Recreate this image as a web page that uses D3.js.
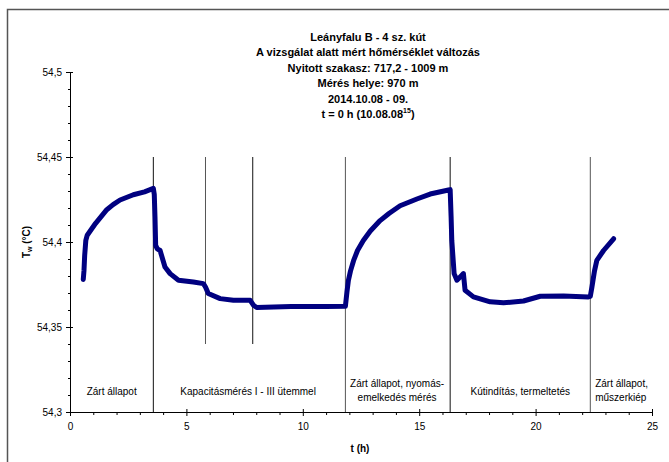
<!DOCTYPE html>
<html>
<head>
<meta charset="utf-8">
<script src="https://cdn.jsdelivr.net/npm/d3@7"></script>
<style>
  body { margin: 0; background: #fff; }
  text { font-family: "Liberation Sans", Arial, sans-serif; }
</style>
</head>
<body>
<svg width="669" height="462"></svg>
<script>
// measured temperature, time in hours since 10.08.08:15
var tHours = [0.57, 0.60, 0.63, 0.68, 0.74, 1.10, 1.58, 1.85, 2.15, 2.72, 3.20, 3.58,
  3.62, 3.65, 3.68, 3.75, 3.87, 4.08, 4.30, 4.66, 5.30, 5.73, 5.82, 5.94, 6.45,
  7.02, 7.74, 7.88, 8.02, 9.50, 11.00, 11.83, 11.90, 11.96, 12.05, 12.18, 12.35, 12.60, 12.90,
  13.32, 13.70, 14.18, 14.90, 15.47, 16.26, 16.33, 16.37, 16.40, 16.50, 16.62, 16.80, 16.90, 16.97,
  17.33, 18.05, 18.62, 19.48, 20.20, 21.20, 22.27, 22.35, 22.42, 22.53, 22.63, 22.92, 23.35];
var tempC = [54.378, 54.383, 54.392, 54.401, 54.404, 54.411, 54.419, 54.422, 54.4247, 54.4278, 54.4295, 54.4315,
  54.428, 54.415, 54.398, 54.396, 54.395, 54.3853, 54.3814, 54.3775, 54.3765, 54.3755, 54.3735, 54.3697, 54.3667,
  54.3657, 54.3657, 54.3628, 54.3615, 54.362, 54.362, 54.3622, 54.371, 54.3775, 54.383, 54.389, 54.395, 54.4009, 54.4065,
  54.4126, 54.4168, 54.4213, 54.4253, 54.4282, 54.4306, 54.4308, 54.415, 54.4009, 54.3814, 54.3775, 54.380, 54.3814, 54.3716,
  54.3677, 54.3648, 54.3642, 54.3653, 54.3681, 54.3683, 54.3677, 54.368, 54.3735, 54.383, 54.3892, 54.395, 54.4019];

// phase boundaries (h) and where each line ends at the bottom
var phaseTimes = [3.58, 5.82, 7.85, 11.83, 16.33, 22.35];
var phaseBottom = [54.3, 54.34, 54.34, 54.3, 54.3, 54.3];
var phaseTop = 54.45;

var phaseLabels = [
  ["Zárt állapot"],
  ["Kapacitásmérés I - III ütemmel"],
  ["Zárt állapot, nyomás-", "emelkedés mérés"],
  ["Kútindítás, termeltetés"],
  ["Zárt állapot,", "műszerkiép"]
];
var phaseLabelT = [1.79, 7.65, 14.05, 19.34, 22.56];

var titleLines = ["Leányfalu B - 4 sz. kút",
  "A vizsgálat alatt mért hőmérséklet változás",
  "Nyitott szakasz: 717,2 - 1009 m",
  "Mérés helye: 970 m",
  "2014.10.08 - 09."];

var yMajor = [54.3, 54.35, 54.4, 54.45, 54.5];
var xMajor = [0, 5, 10, 15, 20, 25];

function main() {
  var svg = d3.select("svg");

  // outer frame, cut off at right and bottom
  svg.append("rect")
    .attr("x", 7.5).attr("y", 9.5)
    .attr("width", 720).attr("height", 520)
    .attr("fill", "none")
    .attr("stroke", "#555")
    .attr("stroke-width", 1.5);

  var x = d3.scaleLinear().domain([0, 25]).range([70, 652]);
  var y = d3.scaleLinear().domain([54.3, 54.5]).range([412, 72]);
  var fmt = function(d) { return String(d).replace(".", ","); };

  // title
  var title = svg.append("g")
    .attr("font-size", "11px")
    .attr("font-weight", "bold")
    .attr("text-anchor", "middle");
  titleLines.forEach(function(s, i) {
    title.append("text").attr("x", 368).attr("y", 41 + i * 15.4).text(s);
  });
  var last = title.append("text").attr("x", 368).attr("y", 41 + 5 * 15.4);
  last.append("tspan").text("t = 0 h (10.08.08");
  last.append("tspan").attr("font-size", "7px").attr("dy", -5).text("15");
  last.append("tspan").attr("dy", 5).text(")");

  // y axis
  var yMinor = d3.range(54.3, 54.5001, 0.01).map(function(d) { return +d.toFixed(2); })
    .filter(function(d) { return yMajor.indexOf(d) < 0; });
  var gy = svg.append("g").attr("transform", "translate(70,0)");
  gy.call(d3.axisLeft(y).tickValues(yMajor).tickFormat(fmt).tickSize(4).tickPadding(4));
  gy.call(function(g) { g.select(".domain").remove(); });
  svg.append("g").attr("transform", "translate(70,0)")
    .call(d3.axisRight(y).tickValues(yMajor).tickFormat("").tickSize(3).tickSizeOuter(0));
  svg.append("g").attr("transform", "translate(70,0)")
    .call(d3.axisLeft(y).tickValues(yMinor).tickFormat("").tickSize(2).tickSizeOuter(0))
    .call(function(g) { g.select(".domain").remove(); });

  // x axis
  var xMinor = d3.range(0, 26).filter(function(d) { return xMajor.indexOf(d) < 0; });
  svg.append("g").attr("transform", "translate(0,412)")
    .call(d3.axisBottom(x).tickValues(xMajor).tickSize(4).tickPadding(7).tickSizeOuter(0));
  svg.append("g").attr("transform", "translate(0,412)")
    .call(d3.axisTop(x).tickValues(xMajor).tickFormat("").tickSize(3).tickSizeOuter(0))
    .call(function(g) { g.select(".domain").remove(); });
  svg.append("g").attr("transform", "translate(0,412)")
    .call(d3.axisBottom(x).tickValues(xMinor).tickFormat("").tickSize(3).tickSizeOuter(0))
    .call(function(g) { g.select(".domain").remove(); });

  svg.selectAll(".tick text")
    .attr("font-family", "Liberation Sans, Arial, sans-serif")
    .attr("font-size", "10px")
    .attr("fill", "#000");
  svg.selectAll(".domain, .tick line").attr("stroke", "#000");

  // axis titles
  var yt = svg.append("text")
    .attr("transform", "translate(30,242) rotate(-90)")
    .attr("text-anchor", "middle")
    .attr("font-size", "10px")
    .attr("font-weight", "bold");
  yt.append("tspan").text("T");
  yt.append("tspan").attr("font-size", "7px").attr("dy", 2).text("w");
  yt.append("tspan").attr("dy", -2).text(" (°C)");

  svg.append("text")
    .attr("x", 360).attr("y", 452)
    .attr("text-anchor", "middle")
    .attr("font-size", "10px")
    .attr("font-weight", "bold")
    .text("t (h)");

  // phase boundaries
  svg.selectAll(".phase")
    .data(phaseTimes)
    .enter().append("line")
    .attr("class", "phase")
    .attr("x1", function(d) { return x(d); })
    .attr("x2", function(d) { return x(d); })
    .attr("y1", y(phaseTop))
    .attr("y2", function(d, i) { return y(phaseBottom[i]); })
    .attr("stroke", function(d, i) { return i % 2 ? "#555" : "#111"; })
    .attr("stroke-width", 1);

  // phase labels
  phaseLabels.forEach(function(lines, i) {
    var lastLabel = i === phaseLabels.length - 1;
    var y0 = lines.length === 1 ? 395 : 387;
    lines.forEach(function(s, j) {
      svg.append("text")
        .attr("x", x(phaseLabelT[i]))
        .attr("y", y0 + j * 14)
        .attr("text-anchor", lastLabel ? "start" : "middle")
        .attr("font-size", "10px")
        .text(s);
    });
  });

  // temperature curve
  var data = tHours.map(function(t, i) { return { t: t, v: tempC[i] }; });
  svg.append("path")
    .datum(data)
    .attr("fill", "none")
    .attr("stroke", "#000080")
    .attr("stroke-width", 5)
    .attr("stroke-linejoin", "round")
    .attr("stroke-linecap", "round")
    .attr("d", d3.line()
      .x(function(d) { return x(d.t); })
      .y(function(d) { return y(d.v); }));
}
main();
</script>
</body>
</html>
